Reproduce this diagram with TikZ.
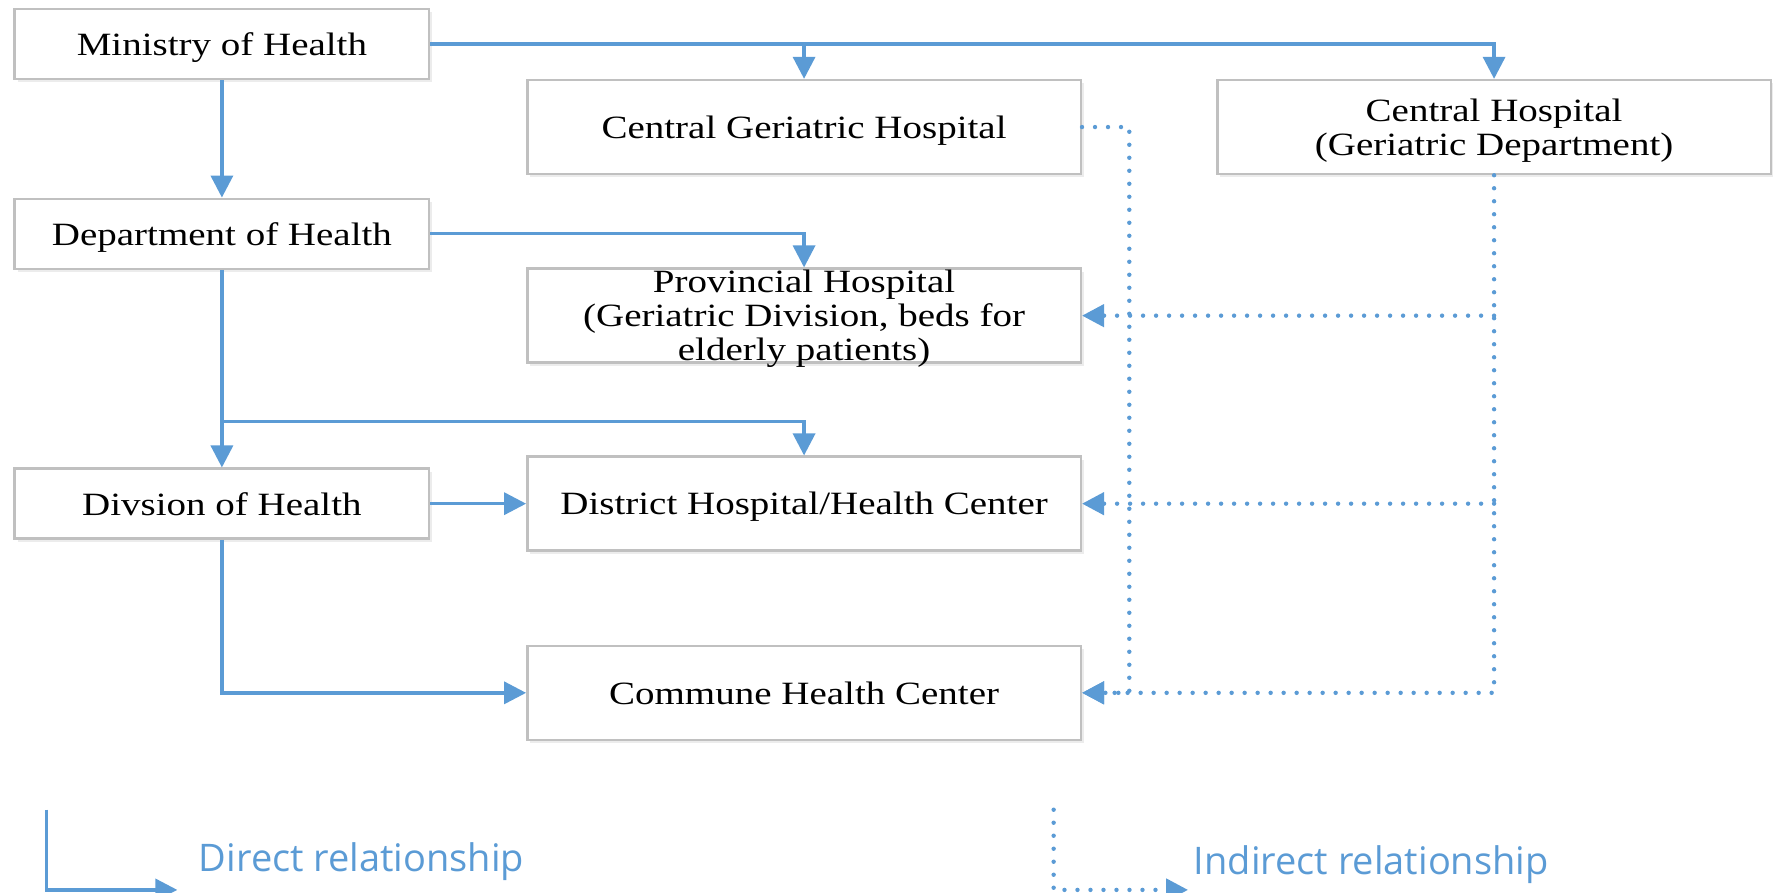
\documentclass[tikz,border=0pt]{standalone}
\usepackage{fontspec}
\newfontfamily\boxfont{Liberation Serif}[FakeStretch=1.2]
\newfontfamily\legfont{Open Sans}
\usetikzlibrary{arrows.meta,shadows}
\definecolor{lineblue}{HTML}{5B9BD5}
\definecolor{boxgray}{HTML}{C0C0C0}
\begin{document}
\begin{tikzpicture}[x=1.1293pt,y=-1.1293pt,
  box/.style={draw=boxgray,line width=2.4pt,fill=white,minimum width=414.5pt,minimum height=70pt,
    inner sep=0pt,align=center,text depth=0pt,font=\boxfont\fontsize{32.5}{34}\selectfont,
    drop shadow={opacity=0.15,shadow xshift=3pt,shadow yshift=-3pt}},
  wbox/.style={box,minimum width=553.5pt,minimum height=94pt},
  direct/.style={draw=lineblue,line width=3.4pt,-{Triangle[length=22pt,width=22pt]}},
  indirect/.style={draw=lineblue,line width=4.4pt,line cap=round,dash pattern=on 0pt off 13pt,
    -{Triangle[length=22pt,width=22pt]}},
  leg/.style={text=lineblue,font=\legfont\fontsize{38}{44}\selectfont,anchor=west,inner sep=0pt}]
\useasboundingbox (0,0) rectangle (1570,790);
\node[box] (moh) at (196.5,39) {Ministry of Health};
\node[box] (doh) at (196.5,207) {Department of Health};
\node[box] (div) at (196.5,446) {Divsion of Health};
\node[wbox] (cgh) at (712,112.5) {Central Geriatric Hospital};
\node[wbox] (ch) at (1323,112.5) {Central Hospital\\(Geriatric Department)};
\node[wbox] (ph) at (712,279.5) {Provincial Hospital\\(Geriatric Division, beds for\\elderly patients)};
\node[wbox] (dh) at (712,446) {District Hospital/Health Center};
\node[wbox] (chc) at (712,613.5) {Commune Health Center};
% direct
\coordinate (j1) at (cgh.north |- moh.east);
\draw[direct] (moh.east) -| (ch.north);
\draw[direct] (j1) -- (cgh.north);
\draw[direct] (moh.south) -- (doh.north);
\draw[direct] (doh.east) -| (ph.north);
\draw[direct] (doh.south) -- (div.north);
\coordinate (j2) at (196.5,373);
\draw[direct] (j2) -| (dh.north);
\draw[direct] (div.east) -- (dh.west);
\draw[direct] (div.south) |- (chc.west);
% indirect
\coordinate (k1) at (1000,112.5);
\draw[indirect] (cgh.east) -- (k1) |- (chc.east);
\draw[indirect] (ch.south) |- (chc.east);
\draw[indirect] (ch.south |- ph.east) -- (ph.east);
\draw[indirect] (ch.south |- dh.east) -- (dh.east);
% legend
\coordinate (l1) at (41,717);
\coordinate (l2) at (157,788);
\draw[direct] (l1) |- (l2);
\node[leg] (lt1) at (176,763) {Direct relationship};
\coordinate (m1) at (933,717);
\coordinate (m2) at (1052,788);
\draw[indirect] (m1) |- (m2);
\node[leg] (lt2) at (1057,766) {Indirect relationship};
\end{tikzpicture}
\end{document}
